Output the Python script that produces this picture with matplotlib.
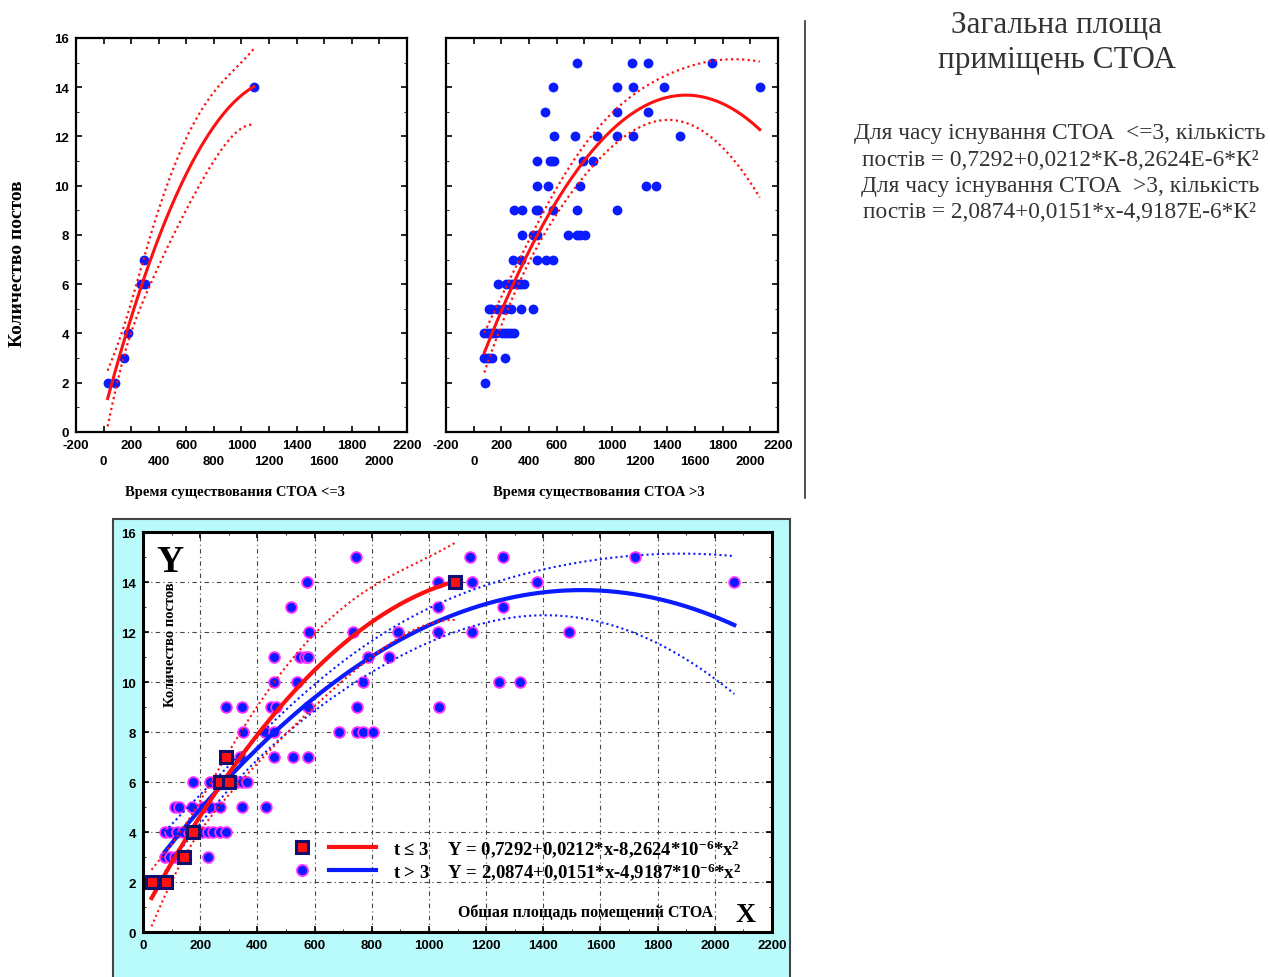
import numpy as np
import matplotlib.pyplot as plt
from matplotlib.lines import Line2D
from matplotlib.patches import Rectangle
from matplotlib.legend_handler import HandlerTuple

plt.rcParams['mathtext.default'] = 'regular'

SERIF = 'Liberation Serif'
SANS = 'Liberation Sans'

# СТОА existing <= 3 years: total floor area vs number of posts
area_new = [30, 80, 145, 175, 270, 290, 300, 1090]
posts_new = [2, 2, 3, 4, 6, 7, 6, 14]

# СТОА existing > 3 years, listed row by row (posts = 15 ... 2)
area_old = [745, 1145, 1260, 1720,
            575, 1033, 1150, 1377, 2068,
            516, 1033, 1260,
            580, 735, 893, 1033, 1150, 1490,
            458, 549, 565, 578, 787, 860,
            458, 540, 770, 1245, 1320,
            289, 347, 448, 464, 576, 747, 1035,
            351, 427, 458, 685, 747, 771, 803,
            287, 340, 459, 526, 576,
            176, 234, 258, 280, 310, 328, 345, 363,
            112, 125, 170, 210, 234, 269, 345, 430,
            77, 94, 118, 141, 160, 205, 228, 246, 269, 290,
            77, 95, 112, 129, 228,
            85]
posts_old = ([15] * 4 + [14] * 5 + [13] * 3 + [12] * 6 + [11] * 6 + [10] * 5
             + [9] * 7 + [8] * 7 + [7] * 5 + [6] * 8 + [5] * 8 + [4] * 10
             + [3] * 5 + [2] * 1)

# quadratic regression coefficients (b0, b1, b2)
coef_new = [0.7292, 0.0212, -8.2624e-6]
coef_old = [2.0874, 0.0151, -4.9187e-6]

top_xticks = list(range(-200, 2201, 200))
bottom_xticks = list(range(0, 2201, 200))
yticks = list(range(0, 17, 2))


def t_crit(df, z=1.959964):
    # Cornish-Fisher expansion of the two-sided 95% Student t quantile
    return (z + (z**3 + z) / (4 * df)
            + (5 * z**5 + 16 * z**3 + 3 * z) / (96 * df**2)
            + (3 * z**7 + 19 * z**5 + 17 * z**3 - 15 * z) / (384 * df**3))


def quad_fit(x, y, coef, n=200):
    """Fitted parabola and 95% confidence band of the mean."""
    x = np.asarray(x, float)
    y = np.asarray(y, float)
    X = np.column_stack([np.ones_like(x), x, x**2])
    resid = y - X @ np.asarray(coef)
    df = len(x) - 3
    s2 = resid @ resid / df
    cov = s2 * np.linalg.inv(X.T @ X)
    xs = np.linspace(x.min(), x.max(), n)
    Xs = np.column_stack([np.ones_like(xs), xs, xs**2])
    fit = Xs @ np.asarray(coef)
    se = np.sqrt(np.einsum('ij,jk,ik->i', Xs, cov, Xs))
    half = t_crit(df) * se
    return xs, fit, fit - half, fit + half


fig = plt.figure(figsize=(12.7, 9.78), dpi=100)


def stagger(ticks):
    return [str(v) if i % 2 == 0 else '\n' + str(v) for i, v in enumerate(ticks)]


def style_ticks(ax):
    for lab in ax.get_xticklabels() + ax.get_yticklabels():
        lab.set_fontfamily(SANS)
        lab.set_fontweight('bold')
        lab.set_linespacing(1.5)


def top_panel(rect, x, y, coef, xlabel, show_y):
    ax = fig.add_axes(rect)
    ax.scatter(x, y, s=50, color='#0a1cff', zorder=3, linewidths=0)
    xs, fit, lo, hi = quad_fit(x, y, coef)
    ax.plot(xs, fit, color='#ff1010', lw=2.2, zorder=4)
    ax.plot(xs, lo, color='#ff1010', lw=1.6, ls=(0, (1, 1.5)), zorder=4)
    ax.plot(xs, hi, color='#ff1010', lw=1.6, ls=(0, (1, 1.5)), zorder=4)
    ax.set_xlim(-200, 2200)
    ax.set_ylim(0, 16)
    ax.set_xticks(top_xticks)
    ax.set_xticklabels(stagger(top_xticks))
    ax.set_yticks(yticks)
    ax.set_yticks(range(0, 17), minor=True)
    ax.tick_params(direction='in', top=True, right=True, length=4, width=1.2,
                   labelsize=9.5, pad=5)
    ax.tick_params(which='minor', direction='in', left=True, right=True, length=2.5)
    style_ticks(ax)
    if not show_y:
        ax.tick_params(labelleft=False)
    for sp in ax.spines.values():
        sp.set_linewidth(1.6)
    ax.set_xlabel(xlabel, fontfamily=SERIF, fontweight='bold', fontsize=10.5)
    ax.xaxis.set_label_coords(0.48, -0.135)
    return ax


ax1 = top_panel([0.0598, 0.5573, 0.2606, 0.4029], area_new, posts_new, coef_new,
                'Время существования СТОА <=3', True)
ax1.set_ylabel('Количество постов', fontfamily=SERIF, fontweight='bold', fontsize=14)
ax1.yaxis.set_label_coords(-0.15, 0.43)

ax2 = top_panel([0.3512, 0.5573, 0.2614, 0.4029], area_old, posts_old, coef_old,
                'Время существования СТОА >3', False)
ax2.xaxis.set_label_coords(0.46, -0.135)

# separator between the charts and the description
fig.add_artist(Line2D([0.634, 0.634], [0.49, 0.978], transform=fig.transFigure,
                      color='#333333', lw=1.2))

fig.text(0.832, 0.989, 'Загальна площа\nприміщень СТОА', ha='center', va='top',
         fontfamily=SERIF, fontsize=22.5, color='#333333', linespacing=1.3)
fig.text(0.8345, 0.874,
         'Для часу існування СТОА  <=3, кількість\n'
         'постів = 0,7292+0,0212*К-8,2624Е-6*К²\n'
         'Для часу існування СТОА  >3, кількість\n'
         'постів = 2,0874+0,0151*х-4,9187Е-6*К²',
         ha='center', va='top', fontfamily=SERIF, fontsize=16.8, color='#333333',
         linespacing=1.33)

# combined chart on a cyan panel
fig.add_artist(Rectangle((0.089, -0.01), 0.533, 0.478, transform=fig.transFigure,
                         facecolor='#b9fbfb', edgecolor='#444444', lw=1.5, zorder=0))
ax3 = fig.add_axes([0.1126, 0.0460, 0.4953, 0.409])
ax3.set_facecolor('white')
ax3.scatter(area_old, posts_old, s=60, facecolor='#0a1cff', edgecolor='#ff30ff',
            linewidths=1.3, zorder=3)
xs, fit, lo, hi = quad_fit(area_old, posts_old, coef_old)
line_old, = ax3.plot(xs, fit, color='#0a1cff', lw=3, zorder=4)
ax3.plot(xs, lo, color='#0a1cff', lw=1.5, ls=(0, (1, 1.5)), zorder=4)
ax3.plot(xs, hi, color='#0a1cff', lw=1.5, ls=(0, (1, 1.5)), zorder=4)
xs, fit, lo, hi = quad_fit(area_new, posts_new, coef_new)
line_new, = ax3.plot(xs, fit, color='#ff1010', lw=3, zorder=4)
ax3.plot(xs, lo, color='#ff1010', lw=1.5, ls=(0, (1, 1.5)), zorder=4)
ax3.plot(xs, hi, color='#ff1010', lw=1.5, ls=(0, (1, 1.5)), zorder=4)
pts_new, = ax3.plot(area_new, posts_new, ls='none', marker='s', ms=8.5,
                    mfc='#ff1010', mec='#101070', mew=2.2, zorder=5)
pts_old = Line2D([], [], ls='none', marker='o', ms=8, mfc='#0a1cff',
                 mec='#ff30ff', mew=1.3)

ax3.set_xlim(0, 2200)
ax3.set_ylim(0, 16)
ax3.set_xticks(bottom_xticks)
ax3.set_yticks(yticks)
ax3.set_xticks(range(0, 2201, 100), minor=True)
ax3.set_yticks(range(0, 17), minor=True)
ax3.grid(True, color='#444444', lw=0.8, ls=(0, (4, 3, 1, 3)))
ax3.tick_params(direction='in', top=True, right=True, length=4, width=1.2,
                labelsize=9.5, pad=5)
ax3.tick_params(which='minor', direction='in', top=True, right=True, length=2.5)
style_ticks(ax3)
for sp in ax3.spines.values():
    sp.set_linewidth(2.2)

ax3.text(0.043, 0.97, 'Y', transform=ax3.transAxes, ha='center', va='top',
         fontfamily=SERIF, fontweight='bold', fontsize=27)
ax3.text(0.043, 0.72, 'Количество постов', transform=ax3.transAxes, rotation=90,
         ha='center', va='center', fontfamily=SERIF, fontweight='bold', fontsize=10.5)
ax3.text(0.958, 0.045, 'X', transform=ax3.transAxes, ha='center', va='center',
         fontfamily=SERIF, fontweight='bold', fontsize=20)
ax3.text(0.703, 0.05, 'Обшая площадь помещений СТОА', transform=ax3.transAxes,
         ha='center', va='center', fontfamily=SERIF, fontweight='bold', fontsize=11.5)

ax3.legend([(pts_new, line_new), (pts_old, line_old)],
           ['t ≤ 3    Y = 0,7292+0,0212*x-8,2624*10$^{-6}$*x$^{2}$',
            't > 3    Y = 2,0874+0,0151*x-4,9187*10$^{-6}$*x$^{2}$'],
           handler_map={tuple: HandlerTuple(ndivide=None, pad=0.2)},
           loc='center left', bbox_to_anchor=(0.2, 0.182), frameon=False,
           handlelength=5.2, handletextpad=0.9, labelspacing=0.05, borderpad=0,
           prop={'family': SERIF, 'weight': 'bold', 'size': 13.5})

fig.savefig('out.png', dpi=100)
